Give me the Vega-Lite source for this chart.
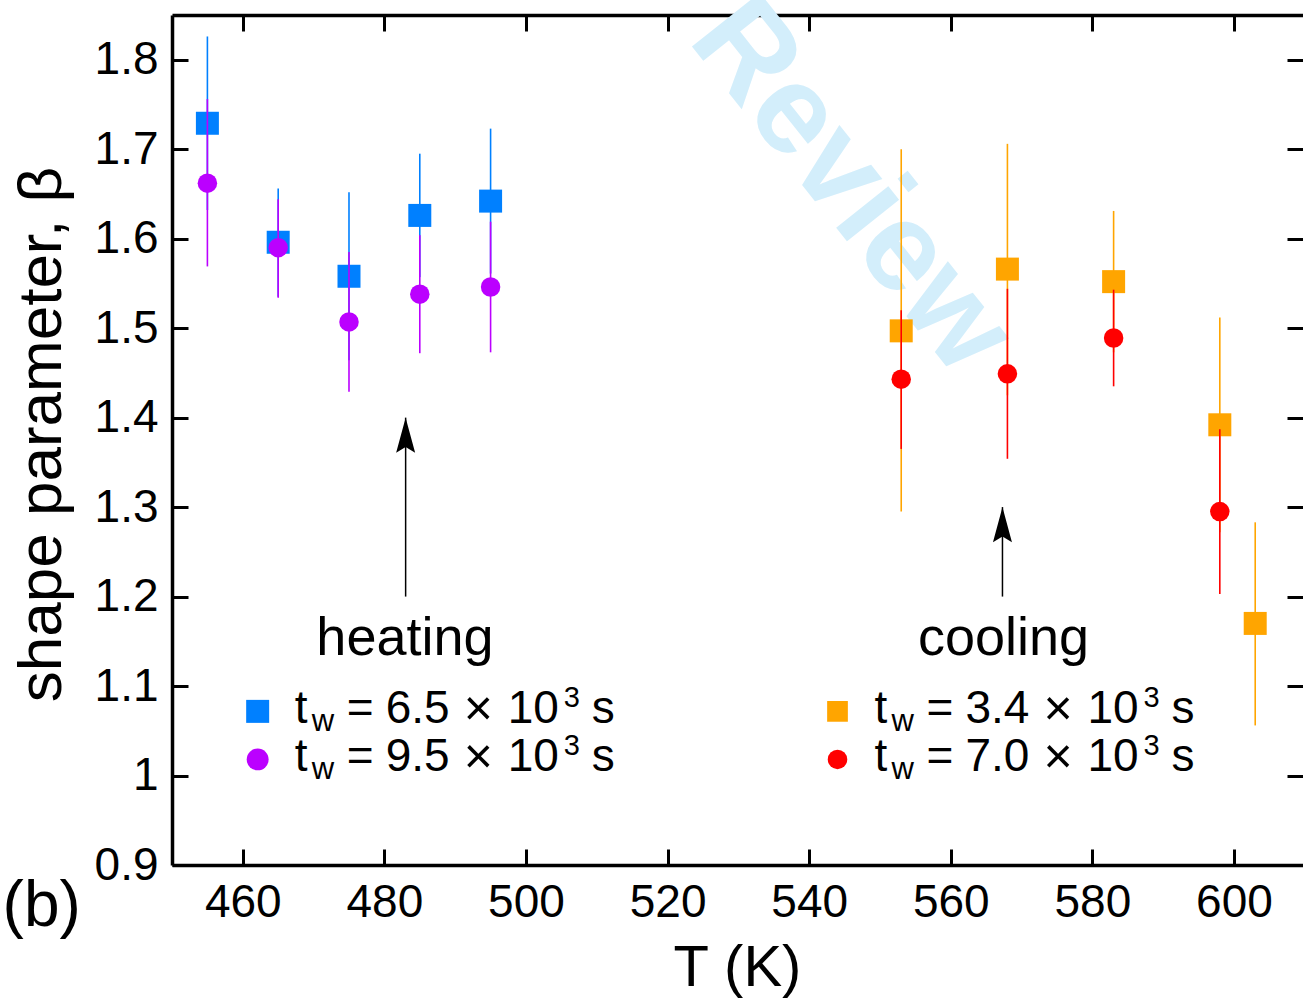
{
  "$schema": "https://vega.github.io/schema/vega-lite/v6.json",
  "width": 1131,
  "height": 850,
  "autosize": {"type": "none"},
  "padding": {"left": 172, "top": 15, "right": 0, "bottom": 133},
  "background": "white",
  "config": {"view": {"stroke": null}, "font": "Liberation Sans"},
  "datasets": {
    "points": [
      {"series": "heat_a", "T": 455, "beta": 1.729, "lo": 1.632, "hi": 1.826},
      {"series": "heat_a", "T": 465, "beta": 1.596, "lo": 1.535, "hi": 1.656},
      {"series": "heat_a", "T": 475, "beta": 1.558, "lo": 1.464, "hi": 1.652},
      {"series": "heat_a", "T": 485, "beta": 1.626, "lo": 1.557, "hi": 1.695},
      {"series": "heat_a", "T": 495, "beta": 1.642, "lo": 1.561, "hi": 1.723},
      {"series": "heat_b", "T": 455, "beta": 1.662, "lo": 1.569, "hi": 1.756},
      {"series": "heat_b", "T": 465, "beta": 1.590, "lo": 1.534, "hi": 1.644},
      {"series": "heat_b", "T": 475, "beta": 1.507, "lo": 1.429, "hi": 1.585},
      {"series": "heat_b", "T": 485, "beta": 1.538, "lo": 1.472, "hi": 1.604},
      {"series": "heat_b", "T": 495, "beta": 1.546, "lo": 1.473, "hi": 1.619},
      {"series": "cool_a", "T": 553, "beta": 1.497, "lo": 1.295, "hi": 1.700},
      {"series": "cool_a", "T": 568, "beta": 1.566, "lo": 1.425, "hi": 1.706},
      {"series": "cool_a", "T": 583, "beta": 1.552, "lo": 1.473, "hi": 1.631},
      {"series": "cool_a", "T": 598, "beta": 1.392, "lo": 1.272, "hi": 1.512},
      {"series": "cool_a", "T": 603, "beta": 1.170, "lo": 1.056, "hi": 1.283},
      {"series": "cool_b", "T": 553, "beta": 1.443, "lo": 1.365, "hi": 1.520},
      {"series": "cool_b", "T": 568, "beta": 1.449, "lo": 1.354, "hi": 1.544},
      {"series": "cool_b", "T": 583, "beta": 1.489, "lo": 1.435, "hi": 1.543},
      {"series": "cool_b", "T": 598, "beta": 1.295, "lo": 1.203, "hi": 1.387}
    ],
    "legend": [
      {"series": "heat_a", "T": 462.1, "beta": 1.0717, "val": "6.5"},
      {"series": "heat_b", "T": 462.1, "beta": 1.018, "val": "9.5"},
      {"series": "cool_a", "T": 544.0, "beta": 1.0717, "val": "3.4"},
      {"series": "cool_b", "T": 544.0, "beta": 1.018, "val": "7.0"}
    ],
    "labels": [
      {"label": "heating", "T": 482.9, "beta": 1.1346},
      {"label": "cooling", "T": 567.45, "beta": 1.1346}
    ],
    "arrows": [
      {"T": 483.0, "base": 1.2, "tip": 1.4},
      {"T": 567.3, "base": 1.2, "tip": 1.3}
    ],
    "watermark": [{"label": "Review", "T": 546.0, "beta": 1.6587}],
    "panel": [{"label": "(b)", "T": 431.6, "beta": 0.8318}]
  },
  "encoding": {
    "x": {"field": "T", "type": "quantitative", "scale": {"domain": [450, 609.75], "nice": false, "zero": false}, "axis": null},
    "y": {"field": "beta", "type": "quantitative", "scale": {"domain": [0.9, 1.85], "nice": false, "zero": false}, "axis": null}
  },
  "resolve": {"axis": {"x": "independent", "y": "independent"}},
  "layer": [
    {
      "data": {"name": "watermark"},
      "mark": {"type": "text", "font": "Liberation Sans", "fontWeight": "bold", "fontSize": 126, "angle": 51.5, "color": "#d3eefb", "align": "center", "baseline": "middle"},
      "encoding": {"text": {"field": "label"}}
    },
    {
      "data": {"name": "points"},
      "mark": {"type": "point", "opacity": 0},
      "encoding": {
        "x": {"field": "T", "type": "quantitative", "scale": {"domain": [450, 609.75], "nice": false, "zero": false},
          "axis": {"orient": "bottom", "values": [460, 480, 500, 520, 540, 560, 580, 600], "format": "d", "grid": false,
            "domainColor": "black", "domainWidth": 3.5, "tickColor": "black", "tickWidth": 3, "tickSize": -16,
            "labelFont": "Liberation Sans", "labelFontSize": 46, "labelColor": "black", "labelPadding": 31, "labelFlush": false, "labelOverlap": false,
            "title": "T (K)", "titleFont": "Liberation Sans", "titleFontSize": 58, "titleFontWeight": "normal", "titleColor": "black",
            "titleX": 565, "titleY": 120, "titleAlign": "center", "titleBaseline": "alphabetic"}},
        "y": {"field": "beta", "type": "quantitative", "scale": {"domain": [0.9, 1.85], "nice": false, "zero": false},
          "axis": {"orient": "left", "values": [0.9, 1, 1.1, 1.2, 1.3, 1.4, 1.5, 1.6, 1.7, 1.8], "format": "~g", "grid": false,
            "domainColor": "black", "domainWidth": 3.5, "tickColor": "black", "tickWidth": 3, "tickSize": -16,
            "labelFont": "Liberation Sans", "labelFontSize": 46, "labelColor": "black", "labelPadding": 30, "labelFlush": false, "labelOverlap": false,
            "title": "shape parameter, β", "titleFont": "Liberation Sans", "titleFontSize": 62, "titleFontWeight": "normal", "titleColor": "black",
            "titleAngle": 270, "titleX": -112, "titleY": 419, "titleAlign": "center", "titleBaseline": "alphabetic"}}
      }
    },
    {
      "data": {"name": "points"},
      "mark": {"type": "point", "opacity": 0},
      "encoding": {
        "x": {"field": "T", "type": "quantitative", "scale": {"domain": [450, 609.75], "nice": false, "zero": false},
          "axis": {"orient": "top", "values": [460, 480, 500, 520, 540, 560, 580, 600], "labels": false, "title": null, "grid": false,
            "domainColor": "black", "domainWidth": 3.5, "tickColor": "black", "tickWidth": 3, "tickSize": -16}},
        "y": {"field": "beta", "type": "quantitative", "scale": {"domain": [0.9, 1.85], "nice": false, "zero": false},
          "axis": {"orient": "right", "values": [1, 1.1, 1.2, 1.3, 1.4, 1.5, 1.6, 1.7, 1.8], "labels": false, "title": null, "grid": false,
            "domain": false, "tickColor": "black", "tickWidth": 3, "tickSize": -16}}
      }
    },
    {
      "data": {"name": "points"},
      "transform": [{"filter": "datum.series == 'heat_a'"}],
      "mark": {"type": "rule", "strokeWidth": 1.6},
      "encoding": {
        "y": {"field": "lo", "type": "quantitative", "scale": {"domain": [0.9, 1.85], "nice": false, "zero": false}, "axis": null},
        "y2": {"field": "hi"},
        "color": {"field": "series", "type": "nominal", "scale": {"domain": ["heat_a", "heat_b", "cool_a", "cool_b"], "range": ["#0080ff", "#bb00ff", "#ffa500", "#ff0000"]}, "legend": null}
      }
    },
    {
      "data": {"name": "points"},
      "transform": [{"filter": "datum.series == 'heat_a'"}],
      "mark": {"type": "point", "shape": "square", "size": 529, "filled": true, "opacity": 1, "strokeWidth": 0},
      "encoding": {
        "color": {"field": "series", "type": "nominal", "scale": {"domain": ["heat_a", "heat_b", "cool_a", "cool_b"], "range": ["#0080ff", "#bb00ff", "#ffa500", "#ff0000"]}, "legend": null}
      }
    },
    {
      "data": {"name": "points"},
      "transform": [{"filter": "datum.series == 'heat_b'"}],
      "mark": {"type": "rule", "strokeWidth": 1.6},
      "encoding": {
        "y": {"field": "lo", "type": "quantitative", "scale": {"domain": [0.9, 1.85], "nice": false, "zero": false}, "axis": null},
        "y2": {"field": "hi"},
        "color": {"field": "series", "type": "nominal", "scale": {"domain": ["heat_a", "heat_b", "cool_a", "cool_b"], "range": ["#0080ff", "#bb00ff", "#ffa500", "#ff0000"]}, "legend": null}
      }
    },
    {
      "data": {"name": "points"},
      "transform": [{"filter": "datum.series == 'heat_b'"}],
      "mark": {"type": "point", "shape": "circle", "size": 380, "filled": true, "opacity": 1, "strokeWidth": 0},
      "encoding": {
        "color": {"field": "series", "type": "nominal", "scale": {"domain": ["heat_a", "heat_b", "cool_a", "cool_b"], "range": ["#0080ff", "#bb00ff", "#ffa500", "#ff0000"]}, "legend": null}
      }
    },
    {
      "data": {"name": "points"},
      "transform": [{"filter": "datum.series == 'cool_a'"}],
      "mark": {"type": "rule", "strokeWidth": 1.6},
      "encoding": {
        "y": {"field": "lo", "type": "quantitative", "scale": {"domain": [0.9, 1.85], "nice": false, "zero": false}, "axis": null},
        "y2": {"field": "hi"},
        "color": {"field": "series", "type": "nominal", "scale": {"domain": ["heat_a", "heat_b", "cool_a", "cool_b"], "range": ["#0080ff", "#bb00ff", "#ffa500", "#ff0000"]}, "legend": null}
      }
    },
    {
      "data": {"name": "points"},
      "transform": [{"filter": "datum.series == 'cool_a'"}],
      "mark": {"type": "point", "shape": "square", "size": 529, "filled": true, "opacity": 1, "strokeWidth": 0},
      "encoding": {
        "color": {"field": "series", "type": "nominal", "scale": {"domain": ["heat_a", "heat_b", "cool_a", "cool_b"], "range": ["#0080ff", "#bb00ff", "#ffa500", "#ff0000"]}, "legend": null}
      }
    },
    {
      "data": {"name": "points"},
      "transform": [{"filter": "datum.series == 'cool_b'"}],
      "mark": {"type": "rule", "strokeWidth": 1.6},
      "encoding": {
        "y": {"field": "lo", "type": "quantitative", "scale": {"domain": [0.9, 1.85], "nice": false, "zero": false}, "axis": null},
        "y2": {"field": "hi"},
        "color": {"field": "series", "type": "nominal", "scale": {"domain": ["heat_a", "heat_b", "cool_a", "cool_b"], "range": ["#0080ff", "#bb00ff", "#ffa500", "#ff0000"]}, "legend": null}
      }
    },
    {
      "data": {"name": "points"},
      "transform": [{"filter": "datum.series == 'cool_b'"}],
      "mark": {"type": "point", "shape": "circle", "size": 380, "filled": true, "opacity": 1, "strokeWidth": 0},
      "encoding": {
        "color": {"field": "series", "type": "nominal", "scale": {"domain": ["heat_a", "heat_b", "cool_a", "cool_b"], "range": ["#0080ff", "#bb00ff", "#ffa500", "#ff0000"]}, "legend": null}
      }
    },
    {
      "data": {"name": "arrows"},
      "mark": {"type": "rule", "strokeWidth": 1.5, "color": "black"},
      "encoding": {
        "y": {"field": "base", "type": "quantitative", "scale": {"domain": [0.9, 1.85], "nice": false, "zero": false}, "axis": null},
        "y2": {"field": "tip"}
      }
    },
    {
      "data": {"name": "arrows"},
      "mark": {"type": "point", "shape": "M0,0L0.5,1.85L0,1.55L-0.5,1.85Z", "size": 1444, "filled": true, "opacity": 1, "strokeWidth": 0, "color": "black"},
      "encoding": {
        "y": {"field": "tip", "type": "quantitative", "scale": {"domain": [0.9, 1.85], "nice": false, "zero": false}, "axis": null}
      }
    },
    {
      "data": {"name": "labels"},
      "mark": {"type": "text", "fontSize": 54, "align": "center", "baseline": "alphabetic", "color": "black"},
      "encoding": {"text": {"field": "label"}}
    },
    {
      "data": {"name": "legend"},
      "mark": {"type": "point", "filled": true, "opacity": 1, "strokeWidth": 0},
      "encoding": {
        "color": {"field": "series", "type": "nominal", "scale": {"domain": ["heat_a", "heat_b", "cool_a", "cool_b"], "range": ["#0080ff", "#bb00ff", "#ffa500", "#ff0000"]}, "legend": null},
        "shape": {"field": "series", "type": "nominal", "scale": {"domain": ["heat_a", "heat_b", "cool_a", "cool_b"], "range": ["square", "circle", "square", "circle"]}, "legend": null},
        "size": {"field": "series", "type": "nominal", "scale": {"domain": ["heat_a", "heat_b", "cool_a", "cool_b"], "range": [529, 380, 529, 380]}, "legend": null}
      }
    },
    {
      "data": {"name": "legend"},
      "mark": {"type": "text", "text": "t", "fontSize": 46, "align": "left", "baseline": "alphabetic", "dx": 37, "dy": 12, "color": "black"}
    },
    {
      "data": {"name": "legend"},
      "mark": {"type": "text", "text": "w", "fontSize": 31, "align": "left", "baseline": "alphabetic", "dx": 54, "dy": 20, "color": "black"}
    },
    {
      "data": {"name": "legend"},
      "mark": {"type": "text", "text": "=", "fontSize": 46, "align": "left", "baseline": "alphabetic", "dx": 89, "dy": 12, "color": "black"}
    },
    {
      "data": {"name": "legend"},
      "mark": {"type": "text", "fontSize": 46, "align": "left", "baseline": "alphabetic", "dx": 128, "dy": 12, "color": "black"},
      "encoding": {"text": {"field": "val"}}
    },
    {
      "data": {"name": "legend"},
      "mark": {"type": "text", "text": "×", "fontSize": 50, "align": "left", "baseline": "alphabetic", "dx": 206, "dy": 14, "color": "black"}
    },
    {
      "data": {"name": "legend"},
      "mark": {"type": "text", "text": "10", "fontSize": 46, "align": "left", "baseline": "alphabetic", "dx": 250, "dy": 12, "color": "black"}
    },
    {
      "data": {"name": "legend"},
      "mark": {"type": "text", "text": "3", "fontSize": 29, "align": "left", "baseline": "alphabetic", "dx": 306, "dy": -4, "color": "black"}
    },
    {
      "data": {"name": "legend"},
      "mark": {"type": "text", "text": "s", "fontSize": 46, "align": "left", "baseline": "alphabetic", "dx": 334, "dy": 12, "color": "black"}
    },
    {
      "data": {"name": "panel"},
      "mark": {"type": "text", "fontSize": 64, "align": "center", "baseline": "alphabetic", "color": "black"},
      "encoding": {"text": {"field": "label"}}
    }
  ]
}
